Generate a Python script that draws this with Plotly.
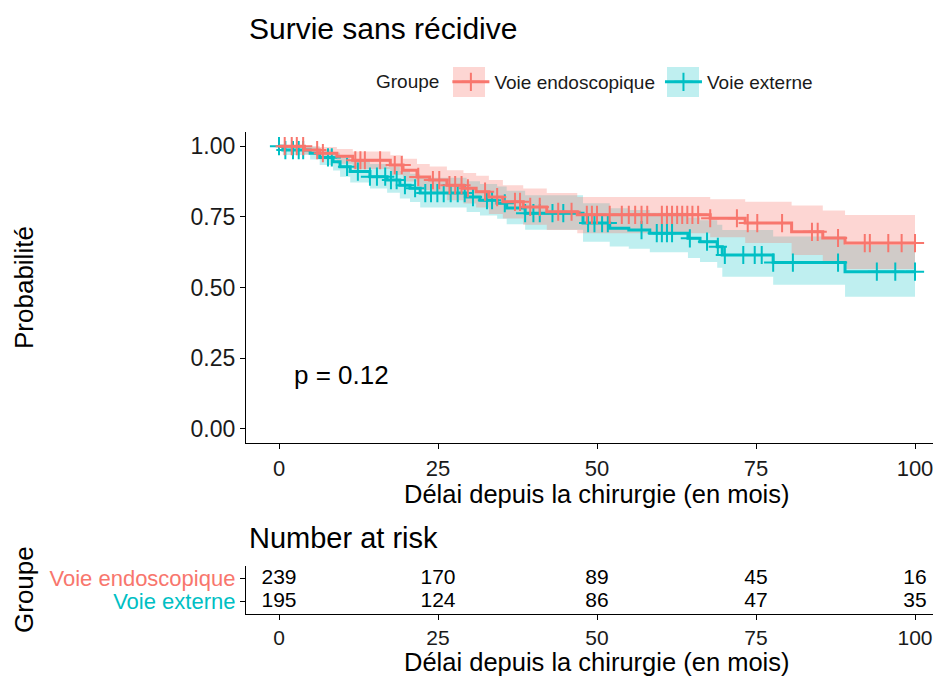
import numpy as np
import plotly.graph_objects as go

# ---------------- data ----------------
groups = ["Voie endoscopique", "Voie externe"]
colors = ["#F8766D", "#00BFC4"]
fills = ["rgba(248,118,109,0.30)", "rgba(0,191,196,0.25)"]

endo_t = [0, 4, 6.4, 9.1, 11.6, 17.5, 19.5, 21.7, 23.7, 26.4, 29, 31, 33, 35.2,
          38.4, 42.1, 46.9, 67.8, 73.3, 80.6, 85.5, 89]
endo_s = [1.0, 0.986, 0.975, 0.964, 0.95, 0.933, 0.915, 0.891, 0.880, 0.862, 0.851,
          0.839, 0.82, 0.803, 0.785, 0.768, 0.757, 0.745, 0.728, 0.697, 0.675, 0.657]
endo_up = [1.0, 1.0, 0.997, 0.990, 0.981, 0.968, 0.955, 0.937, 0.928, 0.915, 0.905,
           0.895, 0.880, 0.862, 0.850, 0.834, 0.820, 0.812, 0.803, 0.790, 0.772, 0.756]
endo_lo = [1.0, 0.971, 0.953, 0.938, 0.919, 0.898, 0.875, 0.845, 0.832, 0.809, 0.797,
           0.783, 0.760, 0.744, 0.722, 0.703, 0.692, 0.678, 0.657, 0.615, 0.590, 0.565]
endo_cens = [0.9, 2.0, 2.8, 3.8, 6.0, 6.9, 12.0, 12.8, 13.5, 15.9, 18.2, 19.3, 21.9,
             24.2, 25.2, 26.8, 27.7, 28.7, 29.7, 32.4, 34.3, 37.1, 37.9, 39.5, 41.0,
             43.9, 46.0, 48.4, 49.2, 50.0, 52.0, 53.9, 55.0, 56.0, 57.0, 57.9, 60.2,
             61.0, 61.8, 62.6, 63.4, 64.2, 65.0, 65.9, 67.8, 72.0, 73.7, 75.2, 79.1,
             83.8, 84.7, 87.9, 92.1, 92.9, 95.8, 97.9, 100.0]

ext_t = [0, 0.6, 4.9, 6.4, 8.5, 9.6, 11.2, 14.3, 17, 19, 20.6, 22.2, 29.5, 31.6,
         34.3, 35.8, 38.7, 47.8, 52, 55, 58.3, 64.3, 66.2, 68.9, 69.7, 77.7, 89]
ext_s = [1.0, 0.986, 0.975, 0.96, 0.945, 0.927, 0.91, 0.892, 0.88, 0.862, 0.851,
         0.834, 0.82, 0.809, 0.798, 0.781, 0.763, 0.728, 0.71, 0.703, 0.692, 0.674,
         0.662, 0.644, 0.615, 0.588, 0.556]
ext_up = [1.0, 1.0, 0.998, 0.988, 0.977, 0.964, 0.951, 0.937, 0.927, 0.912, 0.902,
          0.888, 0.876, 0.866, 0.857, 0.842, 0.826, 0.798, 0.780, 0.774, 0.764, 0.748,
          0.738, 0.722, 0.703, 0.680, 0.650]
ext_lo = [1.0, 0.969, 0.953, 0.933, 0.914, 0.892, 0.871, 0.850, 0.835, 0.815, 0.802,
          0.783, 0.767, 0.755, 0.743, 0.724, 0.704, 0.662, 0.645, 0.637, 0.625, 0.604,
          0.590, 0.570, 0.538, 0.510, 0.467]
ext_cens = [0.0, 1.0, 2.2, 3.1, 3.8, 7.7, 8.3, 10.7, 12.4, 14.3, 15.4, 16.7, 17.6,
            18.5, 19.8, 21.4, 23.0, 23.9, 24.9, 25.9, 27.0, 28.1, 29.2, 30.5, 32.7,
            33.5, 35.5, 38.7, 40.0, 41.0, 43.0, 44.7, 48.6, 49.6, 50.8, 51.7, 57.0,
            59.4, 60.2, 61.0, 61.8, 64.6, 67.3, 69.0, 70.1, 73.0, 74.8, 75.9, 77.7,
            80.8, 87.9, 94.0, 96.9, 100.0]

t_end = 100
risk_times = [0, 25, 50, 75, 100]
risk_endo = [239, 170, 89, 45, 16]
risk_ext = [195, 124, 86, 47, 35]
x_ticks = [0, 25, 50, 75, 100]
y_ticks = [0, 0.25, 0.5, 0.75, 1.0]
y_ticklabels = ["0.00", "0.25", "0.50", "0.75", "1.00"]
p_label = "p = 0.12"
title = "Survie sans récidive"
x_title = "Délai depuis la chirurgie (en mois)"
y_title = "Probabilité"
legend_title = "Groupe"
risk_title = "Number at risk"

# ---------------- figure ----------------
# the page body has an 8 px margin, so the figure is drawn 8 px in
OFF = 8
W, H = 941 - OFF, 677 - OFF
FONT = "Liberation Sans, Arial, Helvetica, sans-serif"
TXT = "#1a1a1a"


def px_x(p):
    return (p - OFF) / W


def px_y(p):
    return 1 - (p - OFF) / H


series = [
    (endo_t, endo_s, endo_up, endo_lo, endo_cens),
    (ext_t, ext_s, ext_up, ext_lo, ext_cens),
]

fig = go.Figure()

# confidence bands (external first, endoscopic on top)
for idx in [1, 0]:
    t, s, up, lo, _ = series[idx]
    tt = list(t) + [t_end]
    fig.add_trace(go.Scatter(x=tt, y=list(lo) + [lo[-1]], mode="lines",
                             line=dict(width=0, shape="hv"), showlegend=False,
                             hoverinfo="skip"))
    fig.add_trace(go.Scatter(x=tt, y=list(up) + [up[-1]], mode="lines",
                             line=dict(width=0, shape="hv"), fill="tonexty",
                             fillcolor=fills[idx], showlegend=False,
                             hoverinfo="skip"))

# survival step curves and censoring marks
for idx in [1, 0]:
    t, s, up, lo, cens = series[idx]
    tt = list(t) + [t_end]
    fig.add_trace(go.Scatter(x=tt, y=list(s) + [s[-1]], mode="lines",
                             line=dict(color=colors[idx], width=3, shape="hv"),
                             showlegend=False, name=groups[idx]))
    cy = [s[int(np.searchsorted(t, c, side="right")) - 1] for c in cens]
    fig.add_trace(go.Scatter(x=cens, y=cy, mode="markers",
                             marker=dict(symbol="cross-thin", size=13,
                                         line=dict(color=colors[idx], width=2)),
                             showlegend=False))

# legend entries
for idx in [0, 1]:
    fig.add_trace(go.Scatter(x=[None], y=[None], mode="lines+markers",
                             name=groups[idx],
                             line=dict(color=colors[idx], width=3),
                             marker=dict(symbol="cross-thin", size=13,
                                         line=dict(color=colors[idx], width=2))))

# risk table
RISK_SIZE = 21
fig.add_trace(go.Scatter(x=risk_times, y=[1] * len(risk_times), mode="text",
                         text=[str(v) for v in risk_endo], xaxis="x2", yaxis="y2",
                         textfont=dict(size=RISK_SIZE, color="black"),
                         showlegend=False, hoverinfo="skip"))
fig.add_trace(go.Scatter(x=risk_times, y=[0] * len(risk_times), mode="text",
                         text=[str(v) for v in risk_ext], xaxis="x2", yaxis="y2",
                         textfont=dict(size=RISK_SIZE, color="black"),
                         showlegend=False, hoverinfo="skip"))

x_dom = [px_x(246), px_x(935)]
x_rng = [(246 - 279) / 6.36, (935 - 279) / 6.36]

axis_common = dict(showline=True, linecolor="black", linewidth=1.3, ticks="outside",
                   ticklen=5, tickcolor="black", tickwidth=1.2, showgrid=False,
                   zeroline=False, mirror=False)

fig.update_layout(
    width=W, height=H,
    margin=dict(l=0, r=0, t=0, b=0),
    paper_bgcolor="white", plot_bgcolor="white",
    font=dict(family=FONT, color="black", size=18),
    showlegend=True,
    legend=dict(orientation="h", x=px_x(374), y=px_y(82), xanchor="left",
                yanchor="middle", traceorder="normal",
                title=dict(text=legend_title, font=dict(size=19, color=TXT)),
                font=dict(size=19, color=TXT), itemwidth=37,
                bgcolor="rgba(0,0,0,0)"),
    xaxis=dict(domain=x_dom, range=x_rng, tickvals=x_ticks, anchor="y",
               tickfont=dict(size=22, color=TXT), **axis_common),
    yaxis=dict(domain=[px_y(443), px_y(132)], range=[-0.05, 1.05], anchor="x",
               tickvals=y_ticks, ticktext=y_ticklabels,
               tickfont=dict(size=23, color=TXT), **axis_common),
    xaxis2=dict(domain=x_dom, range=x_rng, tickvals=x_ticks, anchor="y2",
                tickfont=dict(size=21, color=TXT), **axis_common),
    yaxis2=dict(domain=[px_y(614), px_y(566)], range=[-0.55, 1.55], anchor="x2",
                tickvals=[1, 0],
                ticktext=[f"<span style='color:{colors[0]}'>{groups[0]}</span>",
                          f"<span style='color:{colors[1]}'>{groups[1]}</span>"],
                tickfont=dict(size=22), **axis_common),
)

# tinted boxes behind the legend keys (as in the reference legend)
for (x0, x1), fc in zip([(453, 485), (667, 699)], fills):
    fig.add_shape(type="rect", xref="paper", yref="paper",
                  x0=px_x(x0), x1=px_x(x1), y0=px_y(97), y1=px_y(67),
                  fillcolor=fc, line=dict(width=0), layer="below")

ann = [
    dict(text=title, x=px_x(247), y=px_y(29), xanchor="left", yanchor="middle",
         font=dict(size=30)),
    dict(text=y_title, x=px_x(24), y=px_y(288), textangle=-90, xanchor="center",
         yanchor="middle", font=dict(size=26)),
    dict(text=x_title, x=px_x(597), y=px_y(494), xanchor="center", yanchor="middle",
         font=dict(size=25.5)),
    dict(text=risk_title, x=px_x(247), y=px_y(538), xanchor="left", yanchor="middle",
         font=dict(size=29)),
    dict(text=legend_title, x=px_x(24), y=px_y(590), textangle=-90, xanchor="center",
         yanchor="middle", font=dict(size=26)),
    dict(text=x_title, x=px_x(597), y=px_y(662), xanchor="center", yanchor="middle",
         font=dict(size=25.5)),
]
for a in ann:
    a.update(xref="paper", yref="paper", showarrow=False)
    fig.add_annotation(**a)

fig.add_annotation(text=p_label, x=2, y=0.19, xref="x", yref="y", xanchor="left",
                   yanchor="middle", showarrow=False, font=dict(size=26))

fig.write_html("out.html")
